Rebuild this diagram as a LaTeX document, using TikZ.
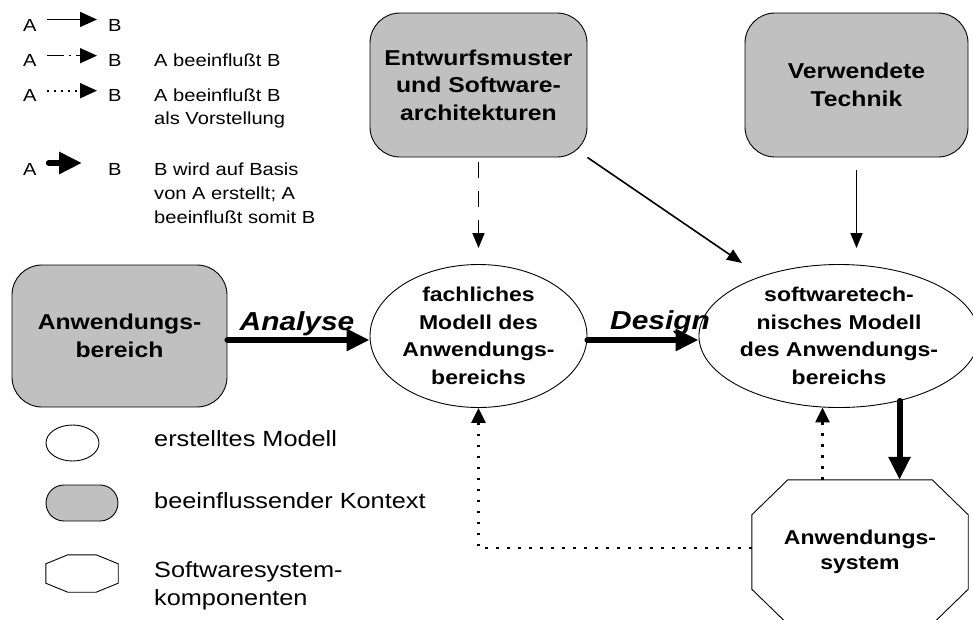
\documentclass[tikz,border=0pt]{standalone}
\usepackage{fontspec}
\setmainfont{Liberation Sans}[FakeStretch=1.15]
\usetikzlibrary{arrows.meta,shapes.geometric,calc}
\definecolor{ctxgray}{HTML}{C0C0C0}

\begin{document}
\begin{tikzpicture}[x=1pt,y=-1pt,
  outline/.style={draw=black, line width=0.9pt},
  ctxbox/.style={outline, fill=ctxgray, rounded corners=30pt, inner sep=0pt, align=center,
    font=\bfseries\fontsize{21.5}{27.5}\selectfont},
  modell/.style={outline, fill=white, ellipse, inner sep=0pt, align=center,
    font=\bfseries\fontsize{20}{27.5}\selectfont},
  component/.style={inner sep=0pt, align=center, font=\bfseries\fontsize{20}{25}\selectfont},
  thinarrow/.style={line width=1.6pt, -{Triangle[length=15pt,width=12pt]}},
  dashedarrow/.style={thinarrow, dash pattern=on 16pt off 13pt},
  dottedarrow/.style={line width=2.6pt, dash pattern=on 2.6pt off 8.4pt, -{Triangle[length=15pt,width=14pt]}},
  bigarrow/.style={line width=6pt, line cap=round, -{Triangle[length=23pt,width=21pt]}},
  steplabel/.style={font=\bfseries\itshape\fontsize{26}{30}\selectfont, anchor=base, inner sep=0pt},
  legtext/.style={font=\fontsize{17.5}{23}\selectfont, anchor=base west, align=left, inner sep=0pt},
  keytext/.style={font=\fontsize{22}{28}\selectfont, anchor=base west, align=left, inner sep=0pt},
  legarrow/.style={line width=1.6pt, -{Triangle[length=17pt,width=15pt]}},
]
\clip (0,0) rectangle (973,619);
\fill[white] (0,0) rectangle (973,619);

% context boxes
\node[ctxbox, minimum width=217pt, minimum height=144pt] (ent) at (478.5,85) {Entwurfsmuster\\und Software-\\architekturen};
\node[ctxbox, minimum width=223pt, minimum height=144pt] (tech) at (856.5,85) {Verwendete\\Technik};
\node[ctxbox, minimum width=215pt, minimum height=142pt] (abox) at (119.5,336) {Anwendungs-\\bereich};

% models
\node[modell, minimum width=217pt, minimum height=143pt] (fm) at (478.5,336) {fachliches\\Modell des\\Anwendungs-\\bereichs};
\node[modell, minimum width=218pt, minimum height=143pt] (sm) at (839,336) {softwaretech-\\nisches Modell\\des Anwendungs-\\bereichs};

% software system component (octagon)
\node[component, minimum width=216pt, minimum height=144pt] (app) at (860,552) {};
\draw[outline, fill=white]
  ($(app.north west)+(36,0)$) -- ($(app.north east)+(-36,0)$) -- ($(app.north east)+(0,35)$)
  -- ($(app.south east)+(0,-35)$) -- ($(app.south east)+(-36,0)$) -- ($(app.south west)+(36,0)$)
  -- ($(app.south west)+(0,-35)$) -- ($(app.north west)+(0,35)$) -- cycle;
\node[component] (apptext) at (app.center) {Anwendungs-\\system};

% connectors
\draw[bigarrow] ([yshift=-4pt]abox.east) -- ([yshift=-4pt]fm.west);
\draw[bigarrow] ([yshift=-4pt]fm.east) -- ([yshift=-4pt]sm.west);
\draw[bigarrow] (sm.-47) -- (sm.-47 |- app.north);
\node[steplabel] (analyse) at (297,330) {Analyse};
\node[steplabel] (design) at (660,329) {Design};

\draw[dashedarrow, shorten <=5pt, shorten >=16pt] (ent.south) -- (fm.north);
\coordinate (diagend) at (742,263);
\draw[thinarrow] (ent.south east) -- (diagend);
\draw[thinarrow, shorten <=13pt, shorten >=16pt] (tech.south) -- (tech.south |- sm.north);

\draw[dottedarrow] ([yshift=4pt]app.west) -| (fm.south);
\draw[dottedarrow] (sm.257 |- app.north) -- (sm.257);

% arrow legend (multi-line texts are anchored at their last baseline)
\node[legtext] (a1) at (23,31.5) {A};
\node[legtext] (b1) at (108,31.5) {B};
\draw[legarrow] ([xshift=10pt,yshift=6pt]a1.east) -- ([xshift=-11pt,yshift=6pt]b1.west);

\node[legtext] (a2) at (23,66.7) {A};
\node[legtext] (b2) at (108,66.7) {B};
\node[legtext] (t2) at (154,66.7) {A beeinflußt B};
\draw[legarrow, dash pattern=on 17pt off 5pt on 2.5pt off 5pt] ([xshift=10pt,yshift=5pt]a2.east) -- ([xshift=-11pt,yshift=5pt]b2.west);

\node[legtext] (a3) at (23,101.7) {A};
\node[legtext] (b3) at (108,101.7) {B};
\node[legtext] (t3) at (154,124.7) {A beeinflußt B\\als Vorstellung};
\draw[legarrow, line width=2pt, dash pattern=on 2pt off 5pt] ([xshift=10pt,yshift=5pt]a3.east) -- ([xshift=-11pt,yshift=5pt]b3.west);

\node[legtext] (a4) at (23,175) {A};
\node[legtext] (b4) at (108,175) {B};
\node[legtext, font=\fontsize{17.5}{24}\selectfont] (t4) at (154,223) {B wird auf Basis\\von A erstellt; A\\beeinflußt somit B};
\draw[bigarrow] ([xshift=12pt,yshift=6pt]a4.east) -- ([xshift=-26pt,yshift=6pt]b4.west);

% shape legend
\node[outline, ellipse, minimum width=53pt, minimum height=36pt, inner sep=0pt] (keyell) at (72.5,443) {};
\node[keytext] (k1) at (154,446.7) {erstelltes Modell};
\node[outline, fill=ctxgray, rounded corners=18pt, minimum width=72pt, minimum height=36pt, inner sep=0pt] (keybox) at (82,503) {};
\node[keytext] (k2) at (154,508) {beeinflussender Kontext};
\node[inner sep=0pt, minimum width=72pt, minimum height=37pt] (keyoct) at (82,573.5) {};
\draw[outline]
  ($(keyoct.north west)+(22,0)$) -- ($(keyoct.north east)+(-22,0)$) -- ($(keyoct.north east)+(0,9)$)
  -- ($(keyoct.south east)+(0,-9)$) -- ($(keyoct.south east)+(-22,0)$) -- ($(keyoct.south west)+(22,0)$)
  -- ($(keyoct.south west)+(0,-9)$) -- ($(keyoct.north west)+(0,9)$) -- cycle;
\node[keytext] (k3) at (154,605) {Softwaresystem-\\komponenten};
\end{tikzpicture}
\end{document}
